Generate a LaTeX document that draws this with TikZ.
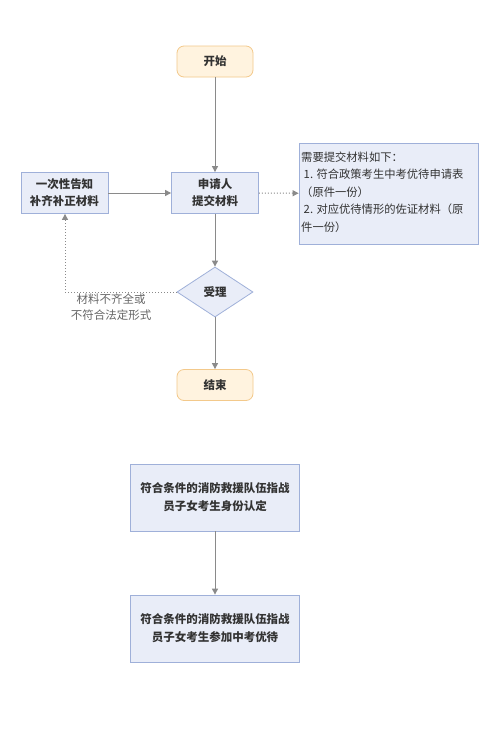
\documentclass[tikz,border=0pt]{standalone}
\usepackage{fontspec}
\setmainfont{Noto Sans CJK SC}
\usetikzlibrary{arrows.meta,shapes.geometric}
\definecolor{termfill}{HTML}{FFF3DF}
\definecolor{termdraw}{HTML}{F3C98B}
\definecolor{boxfill}{HTML}{E9EDF8}
\definecolor{boxdraw}{HTML}{9FB0D9}
\definecolor{linegray}{HTML}{8A8A8A}
\definecolor{textdark}{HTML}{333333}
\begin{document}
\begin{tikzpicture}[x=1pt,y=-1pt,
  term/.style={draw=termdraw,fill=termfill,rounded corners=7pt,minimum width=76pt,minimum height=31pt,font=\fontsize{11.5}{13}\selectfont\bfseries,text=textdark,line width=0.8pt},
  procbox/.style={draw=boxdraw,fill=boxfill,minimum width=87pt,minimum height=41pt,align=center,font=\fontsize{11.5}{17}\selectfont\bfseries,text=textdark,line width=0.8pt},
  bigbox/.style={draw=boxdraw,fill=boxfill,minimum width=169pt,minimum height=67pt,align=center,font=\fontsize{11.5}{18}\selectfont\bfseries,text=textdark,line width=0.8pt},
  decide/.style={diamond,draw=boxdraw,fill=boxfill,minimum width=76pt,minimum height=50pt,inner sep=0pt,aspect=1.52,font=\fontsize{11.5}{13}\selectfont\bfseries,text=textdark,line width=0.8pt},
  conn/.style={draw=linegray,line width=1pt,-{Triangle[width=6pt,length=6pt]}},
  dotconn/.style={draw=linegray,line width=1pt,dotted,-{Triangle[width=6pt,length=6pt]}}
]
\useasboundingbox (0,0) rectangle (500,740);
\fill[white] (0,0) rectangle (500,740);

\node[term] (start) at (215,61.5) {开始};
\node[procbox] (apply) at (215,193) {申请人\\提交材料};
\node[procbox] (notify) at (64.5,193) {一次性告知\\补齐补正材料};
\node[draw=boxdraw,fill=boxfill,line width=0.8pt,minimum width=179pt,minimum height=101pt] (note) at (388.5,193.5) {};
\node[anchor=north west,align=left,inner sep=0pt,font=\fontsize{11.3}{17.5}\selectfont,text=textdark] (notetext) at (301,151.5) {需要提交材料如下：\\\ 1. 符合政策考生中考优待申请表\\（原件一份）\\\ 2. 对应优待情形的佐证材料（原\\件一份）};
\node[decide] (accept) at (215,292) {受理};
\node[term] (end) at (215,385) {结束};
\node[bigbox] (boxa) at (215,497.5) {符合条件的消防救援队伍指战\\员子女考生身份认定};
\node[bigbox] (boxb) at (215,628.5) {符合条件的消防救援队伍指战\\员子女考生参加中考优待};

\coordinate (corner) at (65,292);
\node[align=center,font=\fontsize{11.5}{16}\selectfont,text=black!60] (lbl) at (111,307.5) {材料不齐全或\\不符合法定形式};

\draw[conn] (start) -- (apply);
\draw[conn] (notify) -- (apply);
\draw[dotconn] (apply) -- (note);
\draw[conn] (apply) -- (accept);
\draw[dotconn] (accept.west) -- (corner) -- (corner |- notify.south);
\draw[conn] (accept) -- (end);
\draw[conn] (boxa) -- (boxb);
\end{tikzpicture}
\end{document}
